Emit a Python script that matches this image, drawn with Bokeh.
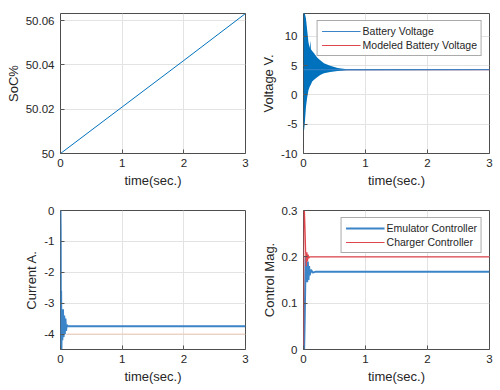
from bokeh.plotting import figure
from bokeh.layouts import column, row
from bokeh.models import FixedTicker, Range1d, Legend, LegendItem, PrintfTickFormatter
from bokeh.embed import file_html
from bokeh.resources import INLINE

# ---------------- data ----------------
x_ticks = [0, 1, 2, 3]

soc_t = [0, 1, 2, 3]
soc_v = [50.0, 50.021, 50.042, 50.0632]
soc_ticks = [50, 50.02, 50.04, 50.06]

volt_t = [0, 0.01, 0.02, 0.04, 0.06, 0.08, 0.1, 0.11, 0.12, 0.14, 0.17, 0.22, 0.27, 0.33, 0.43, 0.55, 0.7, 3]
volt_upper = [14, 14, 14, 13, 11, 9, 8.0, 9.3, 7.8, 7.5, 7.1, 6.4, 5.9, 5.4, 5.0, 4.6, 4.4, 4.35]
volt_lower = [-6, -6, -5, -2, -0.4, 0.8, 1.4, 1.6, 1.8, 2.3, 2.6, 3.0, 3.4, 3.7, 3.9, 4.1, 4.2, 4.25]
model_t = [0, 3]
model_v = [4.3, 4.3]
volt_ticks = [-10, -5, 0, 5, 10]

cur_t = [0, 0.003, 0.006, 0.01, 0.015, 0.02, 0.03, 0.04, 0.05, 0.06, 0.07, 0.08, 0.09, 0.1, 0.12, 3.0]
cur_v = [0, -0.7, -4.5, -2.6, -4.5, -3.3, -4.2, -3.2, -4.1, -3.4, -4.0, -3.5, -3.9, -3.7, -3.75, -3.75]
cur_ref_t = [0.1, 3]
cur_ref_v = [-4.0, -4.0]
cur_ticks = [-4, -3, -2, -1, 0]

chg_t = [0, 0.005, 0.015, 0.025, 0.035, 0.045, 0.055, 0.065, 0.075, 0.085, 0.1, 3]
chg_v = [0, 0.3, 0.3, 0.26, 0.21, 0.18, 0.21, 0.19, 0.205, 0.197, 0.2, 0.2]
emu_t = [0, 0.01, 0.02, 0.035, 0.05, 0.06, 0.07, 0.08, 0.09, 0.1, 0.12, 0.15, 0.2, 3]
emu_v = [0, 0.0, 0.07, 0.2, 0.18, 0.145, 0.19, 0.15, 0.18, 0.16, 0.172, 0.166, 0.168, 0.168]
ctrl_ticks = [0, 0.1, 0.2, 0.3]

BLUE = "#0072BD"
LBLUE = "#3B84C8"
RED = "#E0474C"
FONT = "Liberation Sans"
TXT = "#262626"


def make(width, height, left, right, top, bottom, yr, yticks, ylabel):
    p = figure(width=width, height=height, output_backend="svg", toolbar_location=None,
               x_range=Range1d(0, 3), y_range=Range1d(*yr),
               min_border_left=left, min_border_right=right,
               min_border_top=top, min_border_bottom=bottom)
    p.outline_line_color = "#4d4d4d"
    p.outline_line_width = 1
    p.background_fill_color = "white"
    p.border_fill_color = "white"
    p.xaxis.ticker = FixedTicker(ticks=x_ticks)
    p.yaxis.ticker = FixedTicker(ticks=yticks)
    p.yaxis.formatter = PrintfTickFormatter(format="%g")
    p.xaxis.formatter = PrintfTickFormatter(format="%g")
    p.xaxis.axis_label = "time(sec.)"
    p.yaxis.axis_label = ylabel
    for ax in (p.xaxis[0], p.yaxis[0]):
        ax.axis_line_color = None
        ax.major_tick_in = 4
        ax.major_tick_out = 0
        ax.major_tick_line_color = "#555555"
        ax.minor_tick_line_color = None
        ax.major_label_text_font = FONT
        ax.major_label_text_font_size = "11.5px"
        ax.major_label_text_color = TXT
        ax.axis_label_text_font = FONT
        ax.axis_label_text_font_size = "13px"
        ax.axis_label_text_font_style = "normal"
        ax.axis_label_text_color = TXT
    p.xaxis.major_label_standoff = 5
    p.xaxis.axis_label_standoff = 3
    p.yaxis.major_label_standoff = 6
    p.yaxis.axis_label_standoff = 2
    p.grid.grid_line_color = "#e3e3e3"
    p.grid.grid_line_width = 1
    return p


def add_legend(p, items):
    leg = Legend(items=items, location="top_right", margin=7,
                 label_text_font=FONT, label_text_font_size="10.5px", label_text_color=TXT,
                 glyph_width=39, glyph_height=12, label_height=12, label_standoff=2,
                 spacing=2, padding=4, border_line_color="#555555",
                 background_fill_alpha=1.0)
    p.add_layout(leg, "center")


# top-left: SoC
p1 = make(255, 195, 60, 10, 13, 42, (50.0, 50.0632), soc_ticks, "SoC%")
p1.line(soc_t, soc_v, color=BLUE, line_width=1)

# top-right: Voltage
p2 = make(244, 195, 48, 10, 13, 42, (-10, 13.9), volt_ticks, "Voltage V.")
r_model = p2.line(model_t, model_v, color=RED, line_width=1.2)
p2.varea(x=volt_t, y1=volt_lower, y2=volt_upper, fill_color=BLUE)
r_bl = p2.line(model_t, model_v, color=LBLUE, line_width=1)
add_legend(p2, [LegendItem(label="Battery Voltage", renderers=[r_bl]),
                LegendItem(label="Modeled Battery Voltage", renderers=[r_model])])

# bottom-left: Current
p3 = make(255, 194, 60, 10, 15, 40, (-4.5, 0), cur_ticks, "Current A.")
p3.line(cur_ref_t, cur_ref_v, color="#F2B48F", line_width=1, alpha=0.6)
p3.line(cur_t, cur_v, color=LBLUE, line_width=2)

# bottom-right: Control
p4 = make(244, 194, 48, 10, 15, 40, (0, 0.3), ctrl_ticks, "Control Mag.")
r_emu = p4.line(emu_t, emu_v, color=LBLUE, line_width=2)
r_chg = p4.line(chg_t, chg_v, color=RED, line_width=1.2)
add_legend(p4, [LegendItem(label="Emulator Controller", renderers=[r_emu]),
                LegendItem(label="Charger Controller", renderers=[r_chg])])

layout = column(row(p1, p2), row(p3, p4))
open("out.html", "w").write(file_html(layout, INLINE))
